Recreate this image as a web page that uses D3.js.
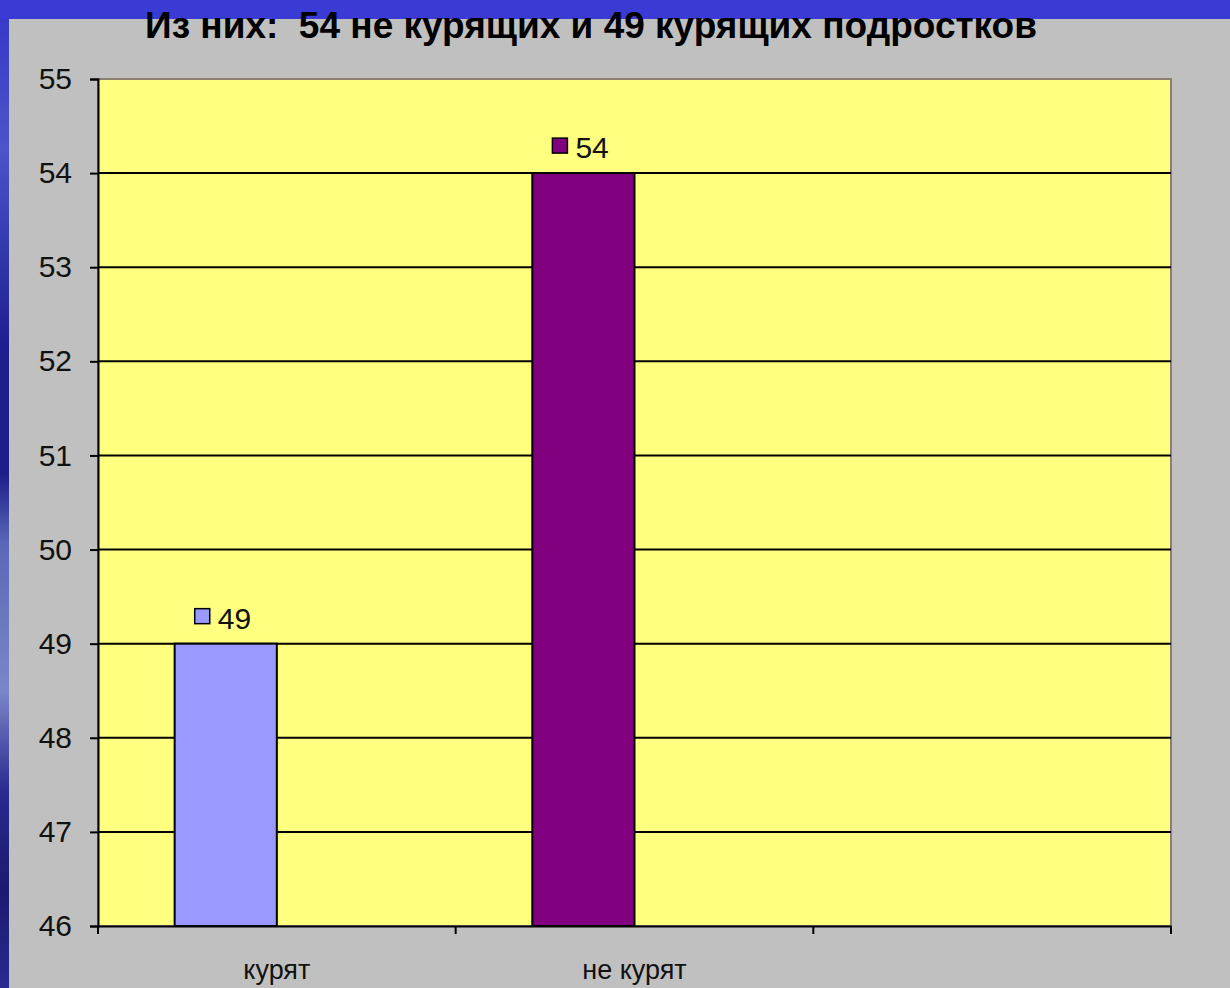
<!DOCTYPE html>
<meta charset="utf-8">
<script src="https://d3js.org/d3.v7.min.js"></script>
<style>
    body { margin: 0; }
    svg text { font-family: "Liberation Sans", Arial, sans-serif; }
</style>
<div id="chart"></div>
<script>

    // data
    const categories = ["курят", "не курят", ""];
    const values = [49, 54, null];
    const barColors = ["#9999ff", "#800080", "#ffffcc"];
    const yTicks = [46, 47, 48, 49, 50, 51, 52, 53, 54, 55];
    const series = ["s1", "s2"];
    const title = "Из них:  54 не курящих и 49 курящих подростков";

    const W = 1230, H = 988;
    const plot = {left: 98, right: 1171, top: 79, bottom: 926};

    const svg = d3.select("#chart")
        .append("svg")
        .attr("width", W)
        .attr("height", H);

    // slide background (blue strips) + grey chart area
    const defs = svg.append("defs");
    const grad = defs.append("linearGradient")
        .attr("id", "side")
        .attr("x1", 0).attr("y1", 0).attr("x2", 0).attr("y2", 1);
    [[0, "#3535c8"], [0.15, "#4a55c8"], [0.35, "#1e1e90"], [0.48, "#1e1e8a"],
     [0.55, "#5a68b8"], [0.7, "#7b86c8"], [0.8, "#2a2a90"], [0.9, "#1a1a70"], [1, "#2a2a90"]]
        .forEach(s => grad.append("stop").attr("offset", s[0]).attr("stop-color", s[1]));

    svg.append("rect").attr("width", W).attr("height", H).attr("fill", "url(#side)");
    svg.append("rect").attr("width", W).attr("height", 19).attr("fill", "#3a3ad4");
    svg.append("rect").attr("x", 9).attr("y", 19)
        .attr("width", W - 9).attr("height", H - 19).attr("fill", "#c0c0c0");

    // title
    svg.append("text")
        .attr("x", 591)
        .attr("y", 38)
        .attr("text-anchor", "middle")
        .style("font-size", "37px")
        .style("font-weight", "bold")
        .attr("fill", "#000")
        .attr("xml:space", "preserve")
        .text(title);

    // scales
    const x0 = d3.scaleBand()
        .domain(categories.map((d, i) => i))
        .range([plot.left, plot.right])
        .padding(0);
    const x1 = d3.scaleBand()
        .domain(series)
        .range([0, x0.bandwidth()])
        .paddingInner(0)
        .paddingOuter(0.75);
    const y = d3.scaleLinear()
        .domain([46, 55])
        .range([plot.bottom, plot.top]);

    // plot area
    svg.append("rect")
        .attr("x", plot.left).attr("y", plot.top)
        .attr("width", plot.right - plot.left)
        .attr("height", plot.bottom - plot.top)
        .attr("fill", "#ffff80")
        .attr("stroke", "#8a8070")
        .attr("stroke-width", 2);

    // gridlines
    svg.append("g")
        .selectAll("line")
        .data(yTicks.filter(t => t > 46 && t < 55))
        .join("line")
        .attr("x1", plot.left).attr("x2", plot.right)
        .attr("y1", d => y(d)).attr("y2", d => y(d))
        .attr("stroke", "#000")
        .attr("stroke-width", 2);

    // bars
    const barData = values.map((v, i) => ({i, v})).filter(d => d.v != null);
    svg.append("g")
        .selectAll("rect")
        .data(barData)
        .join("rect")
        .attr("x", d => x0(d.i) + x1("s1"))
        .attr("y", d => y(d.v))
        .attr("width", x1.bandwidth())
        .attr("height", d => y(46) - y(d.v))
        .attr("fill", d => barColors[d.i])
        .attr("stroke", "#000")
        .attr("stroke-width", 2);

    // data labels with legend key
    const lab = svg.append("g")
        .selectAll("g")
        .data(barData)
        .join("g")
        .attr("transform", d => `translate(${x0(d.i) + x1("s1") + x1.bandwidth() / 2}, ${y(d.v)})`);
    lab.append("rect")
        .attr("x", -31).attr("y", -35)
        .attr("width", 15).attr("height", 15)
        .attr("fill", d => barColors[d.i])
        .attr("stroke", "#000")
        .attr("stroke-width", 1.5);
    lab.append("text")
        .attr("x", -8).attr("y", -15)
        .style("font-size", "30px")
        .attr("fill", "#111")
        .text(d => d.v);

    // y axis
    const yAxis = svg.append("g")
        .attr("transform", `translate(${plot.left},0)`)
        .call(d3.axisLeft(y).tickValues(yTicks).tickSize(8).tickPadding(18));
    yAxis.select(".domain").attr("stroke-width", 2);
    yAxis.selectAll(".tick line").attr("stroke-width", 2);
    yAxis.selectAll("text")
        .style("font-family", "'Liberation Sans Narrow', 'Arial Narrow', sans-serif")
        .style("font-size", "30px")
        .attr("fill", "#111");

    // x axis
    const xAxis = svg.append("g")
        .attr("transform", `translate(0,${plot.bottom})`)
        .call(d3.axisBottom(x0).tickSize(0).tickFormat(i => categories[i]).tickPadding(34));
    xAxis.select(".domain").attr("stroke-width", 2);
    xAxis.selectAll("text")
        .style("font-size", "27px")
        .attr("fill", "#111");
    xAxis.selectAll(".sep")
        .data(categories.map((d, i) => i).concat([categories.length]))
        .join("line")
        .attr("class", "sep")
        .attr("x1", i => plot.left + i * x0.step())
        .attr("x2", i => plot.left + i * x0.step())
        .attr("y1", 0).attr("y2", 8)
        .attr("stroke", "#000")
        .attr("stroke-width", 2);
</script>
